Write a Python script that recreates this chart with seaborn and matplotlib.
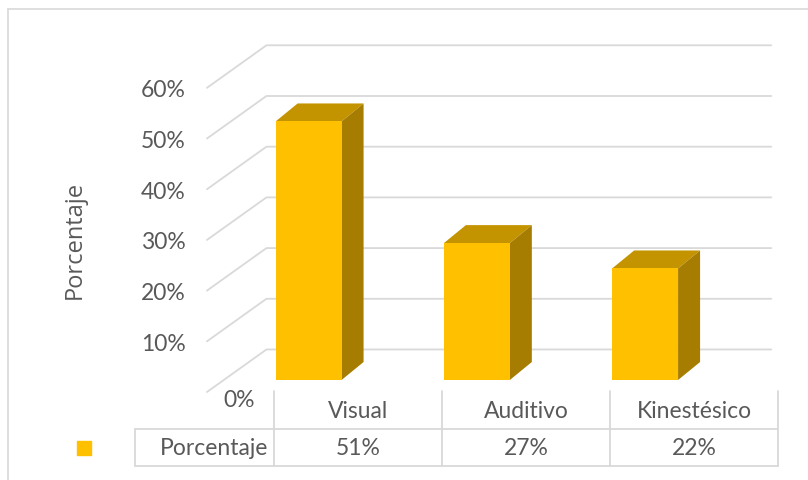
import matplotlib
matplotlib.use('Agg')
import matplotlib.pyplot as plt
import seaborn as sns
from matplotlib.patches import Polygon
from matplotlib.lines import Line2D

categories = ['Visual', 'Auditivo', 'Kinestésico']
values = [51, 27, 22]
value_labels = ['51%', '27%', '22%']
y_ticks = [10, 20, 30, 40, 50, 60]
series_name = 'Porcentaje'

FRONT = '#FFC000'
TOP = '#C49400'
SIDE = '#A67D00'
GRID = '#D9D9D9'
TEXT = '#595959'
FS = 16.5

# 3d offsets in data units (x: categories, y: percent)
back_dx, back_dy = 0.2496, 6.02
front_dx, front_dy = -0.104, -2.37
depth_dx, depth_dy = 0.1308, 3.55

sns.set_style('white')
plt.rcParams['font.family'] = ['Lato', 'DejaVu Sans']

fig = plt.figure(figsize=(8.08, 4.81), dpi=100)

# outer frame
fig.add_artist(Line2D([8 / 808, 8 / 808], [0, 1 - 10 / 481], color=GRID, lw=1.2))
fig.add_artist(Line2D([8 / 808, 1], [1 - 10 / 481, 1 - 10 / 481], color=GRID, lw=1.2))

ax = fig.add_axes([0.2778, 0.2079, 0.6247, 0.6324])

# walls: left wall diagonals + back wall gridlines
for v in [0] + y_ticks:
    ax.plot([-0.5 + front_dx, -0.5 + back_dx, 2.5 + back_dx],
            [v + front_dy, v + back_dy, v + back_dy],
            color=GRID, lw=1.3, clip_on=False, zorder=1)

sns.barplot(x=categories, y=values, color=FRONT, saturation=1, width=0.392,
            ax=ax, zorder=3, linewidth=0, edgecolor='none')

for p in ax.patches:
    x0, w, h = p.get_x(), p.get_width(), p.get_height()
    top = Polygon([(x0, h), (x0 + w, h), (x0 + w + depth_dx, h + depth_dy),
                   (x0 + depth_dx, h + depth_dy)], closed=True,
                  facecolor=TOP, edgecolor='none', zorder=2.9, clip_on=False)
    side = Polygon([(x0 + w, 0), (x0 + w + depth_dx, depth_dy),
                    (x0 + w + depth_dx, h + depth_dy), (x0 + w, h)], closed=True,
                   facecolor=SIDE, edgecolor='none', zorder=2.9, clip_on=False)
    ax.add_patch(top)
    ax.add_patch(side)

ax.set_xlim(-0.5, 2.5)
ax.set_ylim(0, 60)
ax.set_xticks([])
ax.set_yticks([v + front_dy for v in y_ticks])
ax.set_yticklabels([f'{v}%' for v in y_ticks])
ax.tick_params(axis='y', length=0, pad=28, labelsize=FS, labelcolor=TEXT)
ax.set_xlabel('')
ax.set_ylabel('Porcentaje', fontsize=17, color=TEXT, family=['Open Sans', 'DejaVu Sans'])
ax.yaxis.set_label_coords(-0.272, 0.4635)
ax.text(-0.319, -3.75, '0%', ha='right', va='center', fontsize=FS, color=TEXT)
sns.despine(ax=ax, left=True, bottom=True)
ax.patch.set_alpha(0)

# data table
ax2 = fig.add_axes([274 / 808, 14 / 481, 504 / 808, 75 / 481])
ax2.set_xlim(-0.5, 2.5)
ax2.set_ylim(0, 2)
ax2.axis('off')
left_x = -0.5 - 139 / 168
for yy in [0, 1]:
    ax2.plot([left_x, 2.5], [yy, yy], color=GRID, lw=1.3, clip_on=False)
ax2.plot([left_x, left_x], [0, 1], color=GRID, lw=1.3, clip_on=False)
for xx in [-0.5, 0.5, 1.5, 2.5]:
    ax2.plot([xx, xx], [0, 2], color=GRID, lw=1.3, clip_on=False)

for i, (cat, lab) in enumerate(zip(categories, value_labels)):
    ax2.text(i, 1.47, cat, ha='center', va='center', fontsize=FS, color=TEXT)
    ax2.text(i, 0.5, lab, ha='center', va='center', fontsize=FS, color=TEXT)
ax2.text(-0.536, 0.5, series_name, ha='right', va='center', fontsize=FS, color=TEXT)
ax2.scatter([-1.631], [0.48], marker='s', s=100, color=FRONT, clip_on=False)

fig.savefig('out.png', dpi=100)
